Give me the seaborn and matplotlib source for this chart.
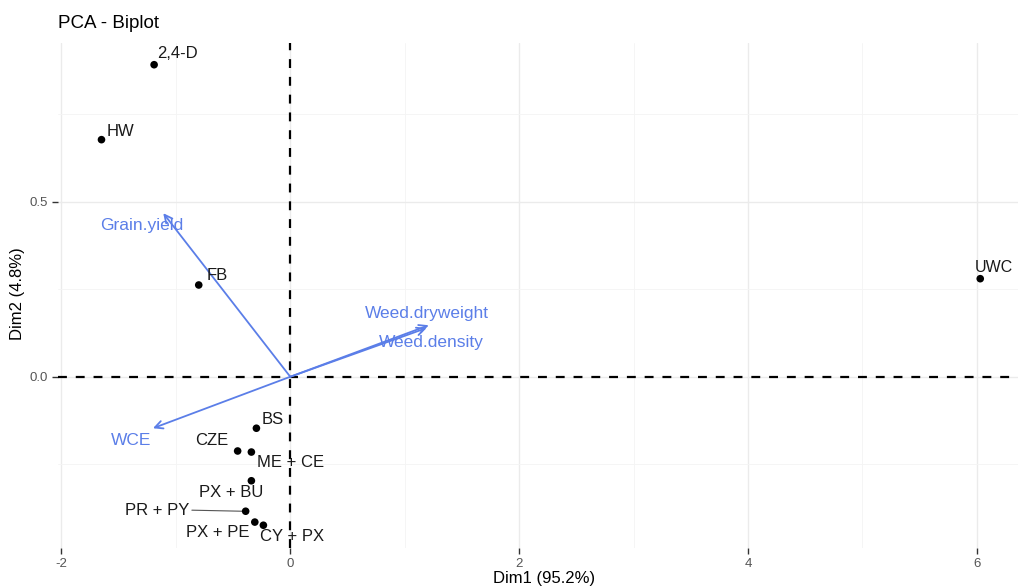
import matplotlib
matplotlib.use("Agg")
import matplotlib.pyplot as plt
import seaborn as sns
import pandas as pd
from matplotlib.ticker import MultipleLocator, FuncFormatter

sns.set_theme(style="white")
plt.rcParams['font.family'] = ['Liberation Sans', 'DejaVu Sans']

# Individuals (treatments)
treatments = ["2,4-D", "HW", "FB", "UWC", "BS", "CZE", "ME + CE", "PX + BU",
              "PR + PY", "PX + PE", "CY + PX"]
dim1 = [-1.19, -1.65, -0.80, 6.03, -0.296, -0.46, -0.34, -0.34, -0.39, -0.31, -0.235]
dim2 = [0.891, 0.677, 0.262, 0.280, -0.147, -0.212, -0.215, -0.297, -0.384, -0.415, -0.424]

# Variables (arrows)
variables = ["Grain.yield", "WCE", "Weed.dryweight", "Weed.density"]
var_dim1 = [-1.11, -1.20, 1.21, 1.19]
var_dim2 = [0.467, -0.147, 0.147, 0.139]

# repelled label offsets (data units)
lab_dx = [0.20, 0.17, 0.16, -0.05, 0.14, -0.226, 0.34, -0.18, -0.77, -0.32, 0.25]
lab_dy = [0.031, 0.023, 0.026, 0.031, 0.026, 0.031, -0.031, -0.034, 0.003, -0.029, -0.031]
var_lab_x = [-1.30, -1.39, 1.19, 1.23]
var_lab_y = [0.431, -0.183, 0.181, 0.097]

df = pd.DataFrame({"Dim1": dim1, "Dim2": dim2, "name": treatments})

fig = plt.figure(figsize=(10.18, 5.87), dpi=100)
ax = fig.add_axes([58/1018, 39/587, 1 - 58/1018, (548-43)/587])

ax.set_xlim(-2.03, 6.36)
ax.set_ylim(-0.489, 0.953)

ax.xaxis.set_major_locator(MultipleLocator(2))
ax.xaxis.set_minor_locator(MultipleLocator(1))
ax.yaxis.set_major_locator(MultipleLocator(0.5))
ax.yaxis.set_minor_locator(MultipleLocator(0.25))
ax.grid(True, which="major", color="#ebebeb", linewidth=1.0)
ax.grid(True, which="minor", color="#f4f4f4", linewidth=0.6)
ax.set_axisbelow(True)
for s in ax.spines.values():
    s.set_visible(False)

ax.axhline(0, color="black", linestyle=(0, (4, 4)), linewidth=1.6, zorder=2)
ax.axvline(0, color="black", linestyle=(0, (4, 4)), linewidth=1.6, zorder=2)

sns.scatterplot(data=df, x="Dim1", y="Dim2", color="black", s=30, edgecolor="none",
                ax=ax, zorder=4, legend=False)

for i, name in enumerate(treatments):
    tx, ty = dim1[i] + lab_dx[i], dim2[i] + lab_dy[i]
    ha = "left" if name == "UWC" else "center"
    fs = 11.5 if name == "UWC" else 12
    ax.text(tx, ty, name, ha=ha, va="center", fontsize=fs, color="#1a1a1a", zorder=5,
            clip_on=False)
    if name == "PR + PY":
        ax.plot([tx + 0.30, dim1[i] - 0.03], [ty, dim2[i]], color="#555555",
                linewidth=0.8, zorder=3)

blue = "#5B7EE8"
for i, v in enumerate(variables):
    ax.annotate("", xy=(var_dim1[i], var_dim2[i]), xytext=(0, 0),
                arrowprops=dict(arrowstyle="->", color=blue, lw=1.3,
                                mutation_scale=14, shrinkA=0, shrinkB=0), zorder=3)
    ax.text(var_lab_x[i], var_lab_y[i], v, color=blue, fontsize=12.5,
            ha="center", va="center", zorder=5)

ax.tick_params(axis="both", which="major", length=4, width=1, color="#333333",
               labelsize=9.5, labelcolor="#555555", bottom=True, left=True, pad=3)
ax.tick_params(axis="both", which="minor", length=0)
ax.xaxis.set_major_formatter(FuncFormatter(lambda v, p: f"{v:g}"))
ax.yaxis.set_major_formatter(FuncFormatter(lambda v, p: f"{v:.1f}"))

ax.set_xlabel("")
ax.set_ylabel("")
fig.text(544/1018, 1 - 578/587, "Dim1 (95.2%)", fontsize=12, ha="center", va="center", color="black")
fig.text(18/1018, 1 - 294/587, "Dim2 (4.8%)", fontsize=12, ha="center", va="center",
         rotation=90, color="black")
fig.text(58/1018, 1 - 23/587, "PCA - Biplot", fontsize=13.5, ha="left", va="center", color="black")

fig.savefig("out.png", dpi=100)
